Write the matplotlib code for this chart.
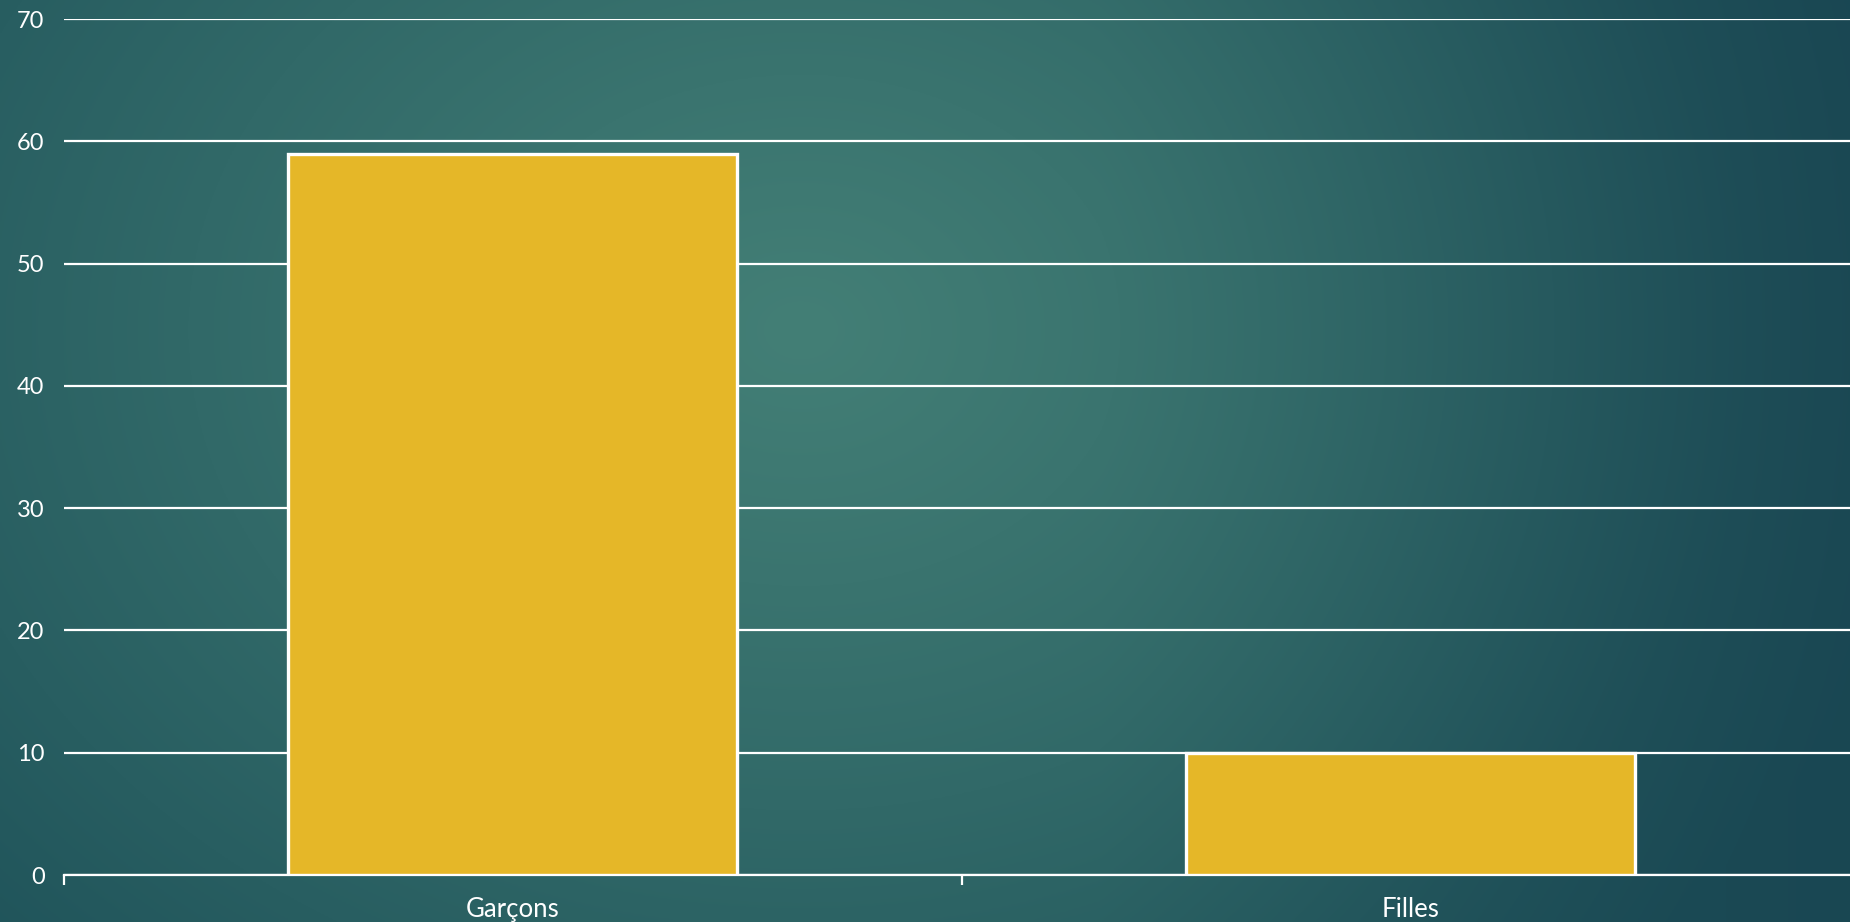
import numpy as np
import matplotlib
matplotlib.use("Agg")
import matplotlib.pyplot as plt
from matplotlib.colors import to_rgb

categories = ["Garçons", "Filles"]
values = [59, 10]
y_ticks = [0, 10, 20, 30, 40, 50, 60, 70]

plt.rcParams['font.family'] = ['Lato', 'DejaVu Sans']

W, H, DPI = 1850, 922, 100
fig = plt.figure(figsize=(W / DPI, H / DPI), dpi=DPI)

# Background: soft radial glow on a dark teal slide
bg = fig.add_axes([0, 0, 1, 1], zorder=0)
bg.set_axis_off()
yy, xx = np.mgrid[0:H:2, 0:W:2]
cx, cy = 800.0, 330.0
d = np.sqrt(((xx - cx) / 1150.0) ** 2 + ((yy - cy) / 900.0) ** 2)
d = np.clip(d, 0, 1)
c_center = np.array(to_rgb("#437f76"))
c_edge = np.array(to_rgb("#1f535a"))
c_corner = np.array(to_rgb("#163f4e"))
t = d[..., None] ** 1.1
img = c_center * (1 - t) + c_edge * t
# bluish darkening toward the right side
r = np.clip((xx - 1100) / 750.0, 0, 1)[..., None] * np.clip(d[..., None] * 1.2, 0, 1)
img = img * (1 - 0.6 * r) + c_corner * 0.6 * r
bg.imshow(img, extent=[0, 1, 0, 1], aspect="auto", origin="upper")
bg.set_xlim(0, 1)
bg.set_ylim(0, 1)

left = 64 / W
bottom = 47 / H
top = 903 / H
width = (1859 - 64) / W
ax = fig.add_axes([left, bottom, width, top - bottom], zorder=1)
ax.patch.set_alpha(0)

x = np.arange(len(categories))
ax.bar(x, values, width=0.5, color="#e5b728", edgecolor="white",
       linewidth=2.4, zorder=3)

ax.set_xlim(-0.5, len(categories) - 0.5)
ax.set_ylim(0, 70)
ax.set_yticks(y_ticks)
ax.set_yticklabels([str(v) for v in y_ticks])
ax.yaxis.grid(True, color="white", linewidth=1.6, zorder=1)
ax.set_axisbelow(True)

for s in ["top", "right", "left"]:
    ax.spines[s].set_visible(False)
ax.spines["bottom"].set_color("white")
ax.spines["bottom"].set_linewidth(1.6)

ax.tick_params(axis="y", length=0, pad=14, labelsize=17, labelcolor="white")
# category labels centred on bars, tick marks at category boundaries
ax.set_xticks(x)
ax.set_xticklabels(categories)
ax.tick_params(axis="x", which="major", length=0, pad=16,
               labelsize=18.5, labelcolor="white")
ax.set_xticks(np.arange(-0.5, len(categories) + 0.5, 1), minor=True)
ax.tick_params(axis="x", which="minor", length=7, width=1.6,
               color="white", direction="out")

fig.savefig("out.png", dpi=DPI)
